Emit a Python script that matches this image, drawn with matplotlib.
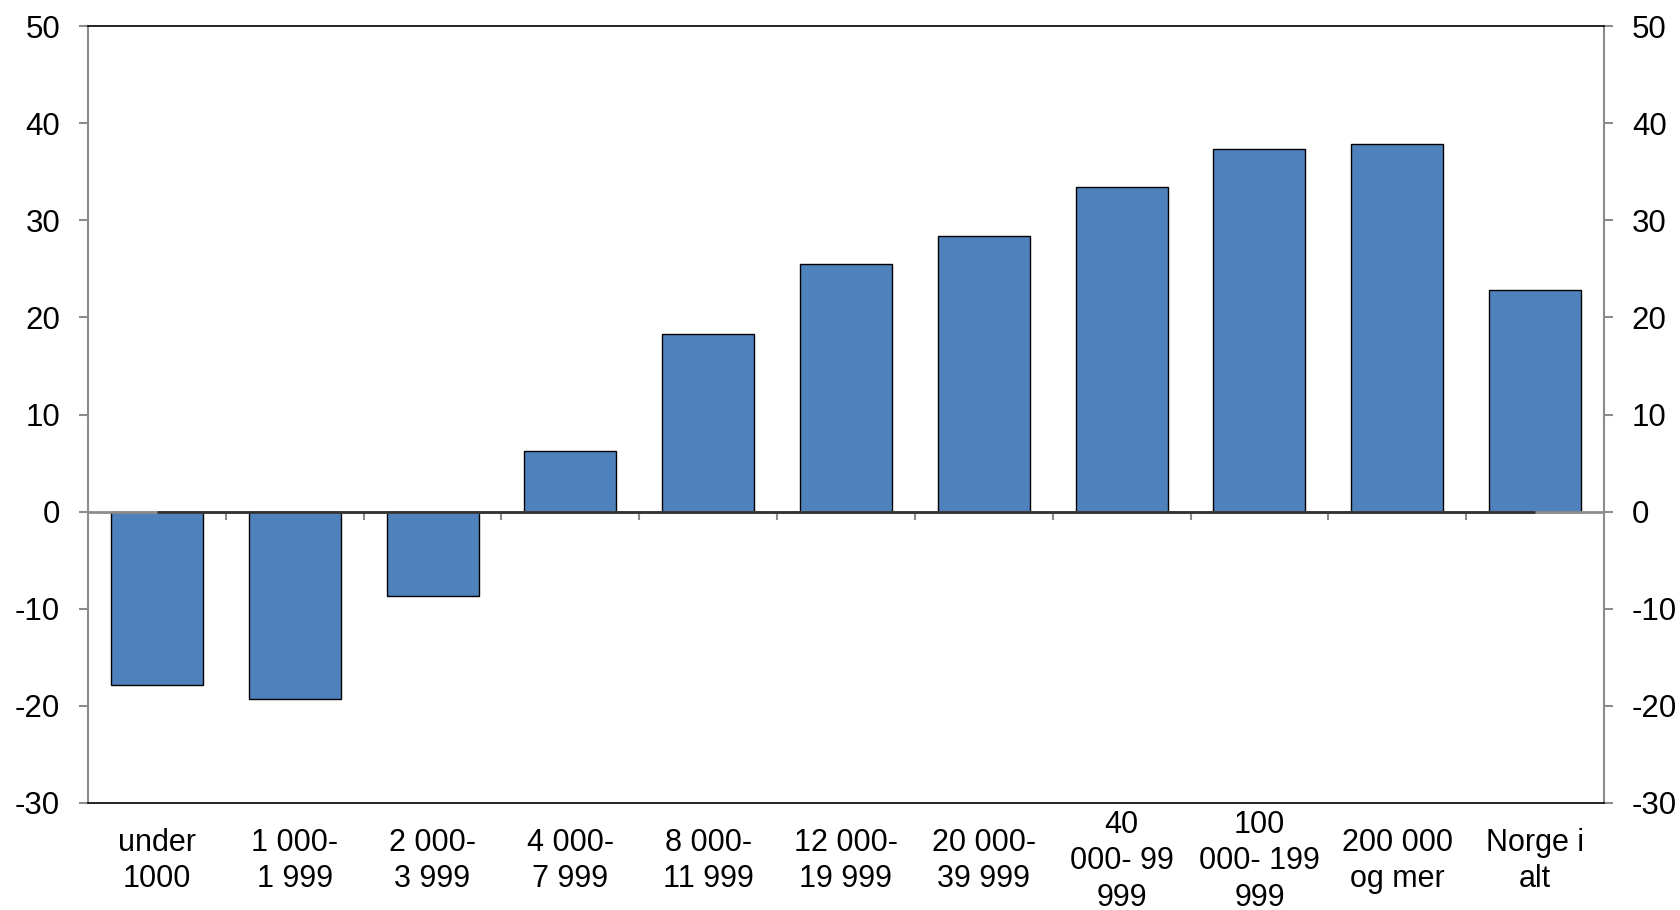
import matplotlib
matplotlib.use("Agg")
import matplotlib.pyplot as plt
import numpy as np

categories = ["under\n1000", "1 000-\n1 999", "2 000-\n3 999", "4 000-\n7 999",
              "8 000-\n11 999", "12 000-\n19 999", "20 000-\n39 999",
              "40\n000- 99\n999", "100\n000- 199\n999", "200 000\nog mer", "Norge i\nalt"]
values = [-17.8, -19.3, -8.7, 6.2, 18.3, 25.5, 28.4, 33.4, 37.3, 37.9, 22.8]
yticks = [-30, -20, -10, 0, 10, 20, 30, 40, 50]

plt.rcParams['font.family'] = ['Liberation Sans', 'DejaVu Sans']

fig = plt.figure(figsize=(16.81, 9.10), dpi=100)
ax = fig.add_axes([88/1681, 1 - 803/910, (1604-88)/1681, (803-26)/910])

x = np.arange(len(categories))
ax.bar(x, values, width=0.667, color="#4F81BD", edgecolor="black", linewidth=1.0, zorder=2)

gray = "#8C8C8C"
ax.axhline(0, color=gray, linewidth=2, zorder=3)
ax.plot([x[0], x[-1]], [0, 0], color="#333333", linewidth=2, zorder=4, solid_capstyle='butt')
ax.vlines(x[:-1] + 0.5, 0, -0.9, color=gray, linewidth=1.5, zorder=3)

ax.set_xlim(-0.5, len(categories) - 0.5)
ax.set_ylim(yticks[0], yticks[-1])
ax.set_yticks(yticks)
ax.set_yticklabels([str(v) for v in yticks])
ax.set_xticks(x)
ax.set_xticklabels(categories)
for lab in ax.get_xticklabels():
    lab.set_va('center')
    lab.set_ha('center')
    lab.set_linespacing(1.27)

ax.tick_params(axis='x', length=0, pad=42, labelsize=22)
ax.tick_params(axis='y', direction='out', length=6.5, width=1.5, color=gray,
               left=True, right=True, labelleft=True, labelright=True,
               labelsize=22.5, pad=13.5)

for s in ['left', 'right']:
    ax.spines[s].set_color(gray)
    ax.spines[s].set_linewidth(1.5)
for s in ['top', 'bottom']:
    ax.spines[s].set_color("black")
    ax.spines[s].set_linewidth(1.2)

fig.savefig("out.png", dpi=100, facecolor="white")
